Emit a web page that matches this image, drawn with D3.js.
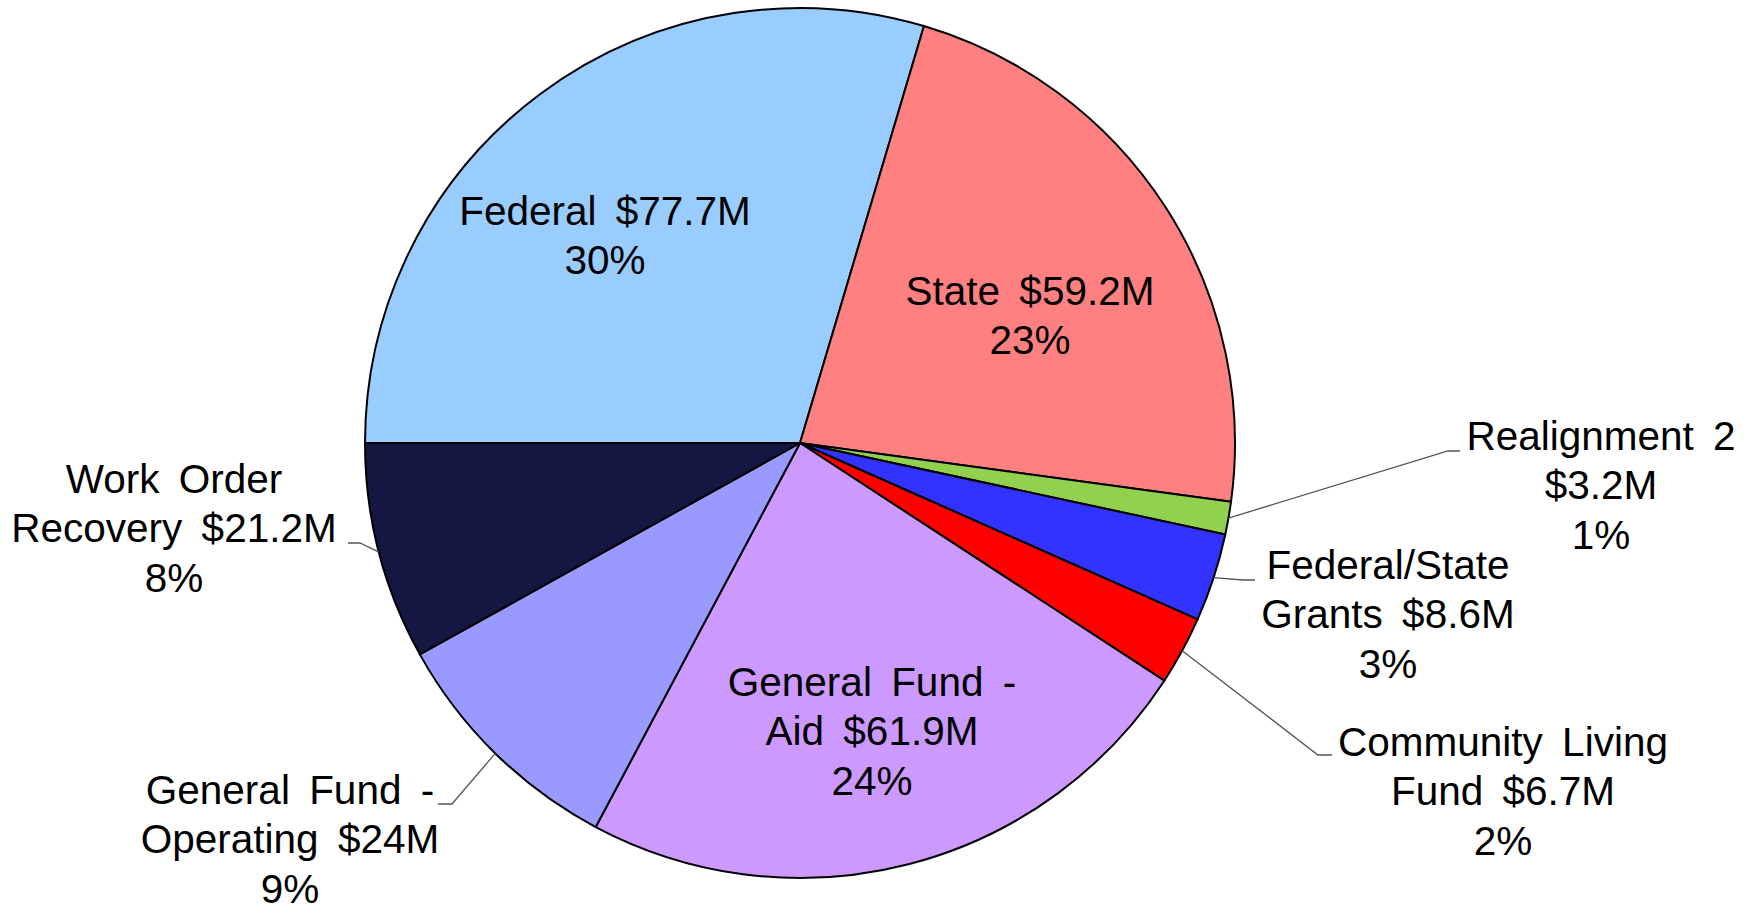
<!DOCTYPE html>
<meta charset="utf-8">
<script src="https://d3js.org/d3.v7.min.js"></script>
<style>
  body { margin: 0; background: #fff; }
  text { font-family: "Liberation Sans", Arial, sans-serif; }
</style>
<div id="my_dataviz"></div>
<script>
// data
var categories = ["Federal", "State", "Realignment 2", "Federal/State Grants",
                  "Community Living Fund", "General Fund - Aid",
                  "General Fund - Operating", "Work Order Recovery"];
var amounts = [77.7, 59.2, 3.2, 8.6, 6.7, 61.9, 24, 21.2];
var amountLabels = ["$77.7M", "$59.2M", "$3.2M", "$8.6M", "$6.7M", "$61.9M", "$24M", "$21.2M"];
var percentLabels = ["30%", "23%", "1%", "3%", "2%", "24%", "9%", "8%"];
// how each label wraps in the original
var labelLines = [
  ["Federal $77.7M", "30%"],
  ["State $59.2M", "23%"],
  ["Realignment 2", "$3.2M", "1%"],
  ["Federal/State", "Grants $8.6M", "3%"],
  ["Community Living", "Fund $6.7M", "2%"],
  ["General Fund -", "Aid $61.9M", "24%"],
  ["General Fund -", "Operating $24M", "9%"],
  ["Work Order", "Recovery $21.2M", "8%"]
];
var colors = ["#99CCFF", "#FF8080", "#92D050", "#3333FF", "#FF0000", "#CC99FF", "#9999FF", "#161642"];

// label placement (center x, first baseline y) and leader elbows
var labelPos = [
  {x: 605, y: 225}, {x: 1030, y: 305}, {x: 1601, y: 450},
  {x: 1388, y: 579}, {x: 1503, y: 756}, {x: 872, y: 696},
  {x: 290, y: 804}, {x: 174, y: 493}
];
var leaders = {
  2: [[1448, 451], [1460, 451]],
  3: [[1243, 580], [1255, 580]],
  4: [[1318, 755], [1332, 755]],
  6: [[452, 804], [438, 804]],
  7: [[360, 543], [348, 543]]
};

var width = 1756, height = 908;
var cx = 800, cy = 443, radius = 435;

var svg = d3.select("#my_dataviz")
  .append("svg")
    .attr("width", width)
    .attr("height", height);

var pie = d3.pie()
  .sort(null)
  .startAngle(-Math.PI / 2)
  .endAngle(3 * Math.PI / 2)
  .value(function(d) { return d; });

var arcs = pie(amounts);
var arc = d3.arc().innerRadius(0).outerRadius(radius);

var g = svg.append("g").attr("transform", "translate(" + cx + "," + cy + ")");

g.selectAll("path")
  .data(arcs)
  .enter()
  .append("path")
    .attr("d", arc)
    .attr("fill", function(d, i) { return colors[i]; })
    .attr("stroke", "#000")
    .attr("stroke-width", 2)
    .attr("stroke-linejoin", "round");

// leader lines, starting on the rim at the slice's middle angle
arcs.forEach(function(d, i) {
  if (!leaders[i]) return;
  var a = (d.startAngle + d.endAngle) / 2;
  var start = [cx + radius * Math.sin(a), cy - radius * Math.cos(a)];
  var pts = [start].concat(leaders[i]);
  svg.append("path")
    .attr("d", d3.line()(pts))
    .attr("fill", "none")
    .attr("stroke", "#555")
    .attr("stroke-width", 1.3);
});

// labels
labelLines.forEach(function(lines, i) {
  var t = svg.append("text")
    .attr("text-anchor", "middle")
    .style("font-size", "40.5px")
    .style("word-spacing", "8px")
    .attr("fill", "#000");
  lines.forEach(function(line, j) {
    t.append("tspan")
      .attr("x", labelPos[i].x)
      .attr("y", labelPos[i].y + j * 49.3)
      .text(line);
  });
});
</script>
